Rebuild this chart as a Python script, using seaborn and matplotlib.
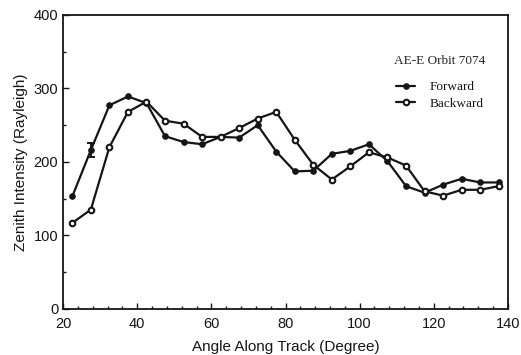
import matplotlib
matplotlib.use("Agg")
import matplotlib.pyplot as plt
from matplotlib.ticker import MultipleLocator
import seaborn as sns
import pandas as pd

# Zenith intensity along the track, sampled every 5 degrees
angle = [22.5, 27.5, 32.5, 37.5, 42.5, 47.5, 52.5, 57.5, 62.5, 67.5, 72.5, 77.5,
         82.5, 87.5, 92.5, 97.5, 102.5, 107.5, 112.5, 117.5, 122.5, 127.5, 132.5, 137.5]
forward = [153, 216, 277, 289, 280, 235, 227, 224, 234, 233, 250, 214,
           187, 188, 211, 215, 224, 201, 167, 158, 169, 177, 172, 172]
backward = [117, 135, 220, 268, 282, 256, 252, 234, 234, 246, 259, 268,
            230, 196, 176, 194, 213, 206, 195, 160, 154, 162, 162, 167]

# single error bar on the forward scan
err_angle = [27.5]
err_value = [216]
err_size = [10]

sns.set_style("ticks")
plt.rcParams["font.family"] = ["Liberation Sans", "DejaVu Sans"]

df = pd.DataFrame({
    "angle": angle * 2,
    "intensity": forward + backward,
    "scan": ["Forward"] * len(angle) + ["Backward"] * len(angle),
})

fig = plt.figure(figsize=(5.21, 3.55), dpi=100)
ax = fig.add_axes([0.121, 0.130, 0.854, 0.828])

ink = "#151515"
sns.lineplot(data=df[df.scan == "Forward"], x="angle", y="intensity", ax=ax,
             color=ink, lw=1.6, marker="o", markersize=4,
             markerfacecolor=ink, markeredgecolor=ink, label="Forward")
sns.lineplot(data=df[df.scan == "Backward"], x="angle", y="intensity", ax=ax,
             color=ink, lw=1.6, marker="o", markersize=4,
             markerfacecolor="white", markeredgecolor=ink, markeredgewidth=1.5,
             label="Backward")
ax.errorbar(err_angle, err_value, yerr=err_size, fmt="none", ecolor=ink,
            elinewidth=1.4, capsize=3, capthick=1.4)

ax.set_xlim(20, 140)
ax.set_ylim(0, 400)
ax.xaxis.set_major_locator(MultipleLocator(20))
ax.xaxis.set_minor_locator(MultipleLocator(4))
ax.yaxis.set_major_locator(MultipleLocator(100))
ax.yaxis.set_minor_locator(MultipleLocator(50))
ax.tick_params(which="both", direction="in", top=False, right=False,
               color=ink, labelsize=10.5, labelcolor=ink)
ax.tick_params(axis="x", which="major", pad=6)
ax.tick_params(which="major", length=4, width=1)
ax.tick_params(which="minor", length=2.5, width=1)
for s in ax.spines.values():
    s.set_color(ink)
    s.set_linewidth(1.3)

ax.set_xlabel("Angle Along Track (Degree)", fontsize=11, color=ink, labelpad=6)
ax.set_ylabel("Zenith Intensity (Rayleigh)", fontsize=11, color=ink, labelpad=4)

leg = ax.legend(loc="upper right", bbox_to_anchor=(0.97, 0.895), frameon=False,
                title="AE-E Orbit 7074", handlelength=1.5, handletextpad=1.1,
                labelspacing=0.35, borderpad=0.2,
                prop={"family": "Liberation Serif", "size": 9.5})
leg.get_title().set_fontfamily("Liberation Serif")
leg.get_title().set_fontsize(9.5)
leg._legend_box.sep = 10
for t in leg.get_texts():
    t.set_color(ink)

fig.savefig("out.png", dpi=100)
